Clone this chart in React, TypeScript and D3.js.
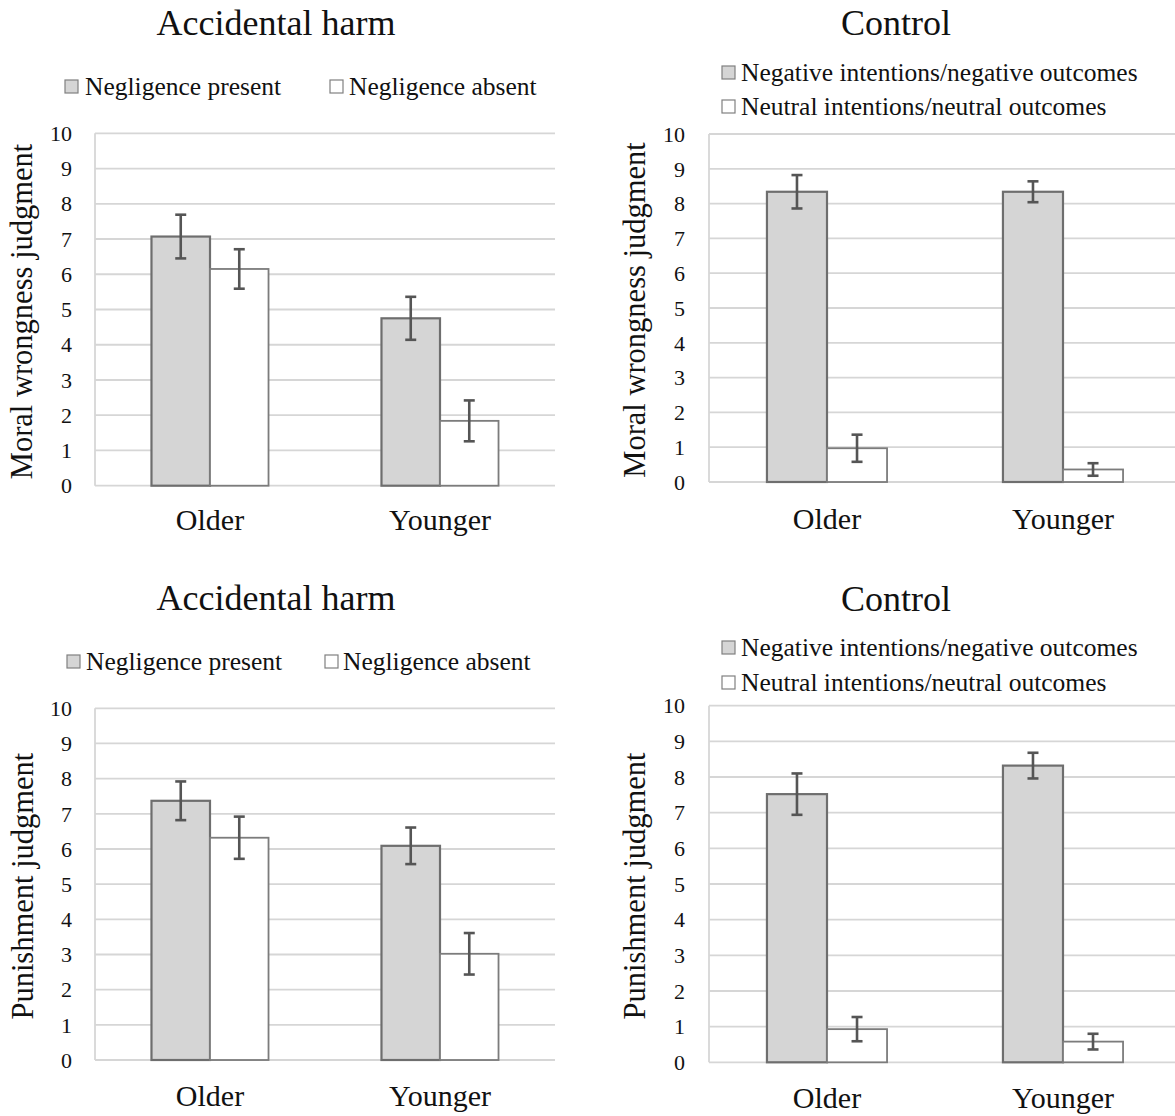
import React from "react";
import * as d3 from "d3";

// ---------- data ----------
const groups = ["Older", "Younger"];
const accidentalSeries = ["Negligence present", "Negligence absent"];
const controlSeries = [
  "Negative intentions/negative outcomes",
  "Neutral intentions/neutral outcomes",
];
const yTicks = [0, 1, 2, 3, 4, 5, 6, 7, 8, 9, 10];

// Moral wrongness – accidental harm
const moralPresent = [7.07, 4.75];
const moralPresentErr = [0.62, 0.61];
const moralAbsent = [6.15, 1.84];
const moralAbsentErr = [0.56, 0.58];

// Moral wrongness – control
const moralNegative = [8.34, 8.34];
const moralNegativeErr = [0.48, 0.3];
const moralNeutral = [0.97, 0.36];
const moralNeutralErr = [0.39, 0.18];

// Punishment – accidental harm
const punishPresent = [7.37, 6.09];
const punishPresentErr = [0.55, 0.52];
const punishAbsent = [6.32, 3.02];
const punishAbsentErr = [0.6, 0.59];

// Punishment – control
const punishNegative = [7.52, 8.32];
const punishNegativeErr = [0.58, 0.36];
const punishNeutral = [0.93, 0.58];
const punishNeutralErr = [0.34, 0.22];

// ---------- styles ----------
const FONT = '"Liberation Serif", "Times New Roman", Tinos, "DejaVu Serif", serif';
const GRAY_FILL = "#d5d5d5";
const GRID = "#d6d6d6";
const series_fill = [GRAY_FILL, "#ffffff"];
const series_stroke = ["#6e6e6e", "#7c7c7c"];
const series_sw = [2.2, 1.8];
const txt = { fontFamily: FONT };

type Panel = {
  title: string;
  titleX: number;
  titleY: number;
  yLabel: string;
  left: number;
  right: number;
  top: number;
  bottom: number;
  tickEnd: number;
  yTitleX: number;
  xLabelY: number;
  series: string[];
  values: number[][];
  errors: number[][];
  legend: { sx: number; tx: number; y: number }[];
};

const panels: Panel[] = [
  {
    title: "Accidental  harm",
    titleX: 276,
    titleY: 35,
    yLabel: "Moral wrongness judgment",
    left: 95,
    right: 555,
    top: 133.3,
    bottom: 485.7,
    tickEnd: 72,
    yTitleX: 32,
    xLabelY: 530,
    series: accidentalSeries,
    values: [moralPresent, moralAbsent],
    errors: [moralPresentErr, moralAbsentErr],
    legend: [
      { sx: 65, tx: 85, y: 95 },
      { sx: 330, tx: 349, y: 95 },
    ],
  },
  {
    title: "Control",
    titleX: 896,
    titleY: 35,
    yLabel: "Moral wrongness judgment",
    left: 709,
    right: 1181,
    top: 134,
    bottom: 482,
    tickEnd: 685,
    yTitleX: 645,
    xLabelY: 529,
    series: controlSeries,
    values: [moralNegative, moralNeutral],
    errors: [moralNegativeErr, moralNeutralErr],
    legend: [
      { sx: 722, tx: 741, y: 81 },
      { sx: 722, tx: 741, y: 115 },
    ],
  },
  {
    title: "Accidental  harm",
    titleX: 276,
    titleY: 610,
    yLabel: "Punishment judgment",
    left: 95,
    right: 555,
    top: 708.3,
    bottom: 1060,
    tickEnd: 72,
    yTitleX: 33,
    xLabelY: 1106,
    series: accidentalSeries,
    values: [punishPresent, punishAbsent],
    errors: [punishPresentErr, punishAbsentErr],
    legend: [
      { sx: 67, tx: 86, y: 670 },
      { sx: 325, tx: 343, y: 670 },
    ],
  },
  {
    title: "Control",
    titleX: 896,
    titleY: 611,
    yLabel: "Punishment judgment",
    left: 709,
    right: 1181,
    top: 705.7,
    bottom: 1062.3,
    tickEnd: 685,
    yTitleX: 645,
    xLabelY: 1108,
    series: controlSeries,
    values: [punishNegative, punishNeutral],
    errors: [punishNegativeErr, punishNeutralErr],
    legend: [
      { sx: 722, tx: 741, y: 656 },
      { sx: 722, tx: 741, y: 691 },
    ],
  },
];

const GAP_RATIO = 1.93;

function ChartPanel({ p }: { p: Panel }) {
  const y = d3.scaleLinear().domain([0, 10]).range([p.bottom, p.top]);
  const x0 = d3.scaleBand<string>().domain(groups).range([p.left, p.right]).paddingInner(0).paddingOuter(0);
  const band = x0.bandwidth();
  const barW = band / (2 + GAP_RATIO);
  const x1 = d3
    .scaleBand<number>()
    .domain([0, 1])
    .range([band / 2 - barW, band / 2 + barW])
    .padding(0);

  return (
    <g>
      <text x={p.titleX} y={p.titleY} textAnchor="middle" fontSize={36} style={txt} fill="#111">
        {p.title}
      </text>

      {p.series.map((s, i) => (
        <g key={s}>
          <rect
            x={p.legend[i].sx}
            y={p.legend[i].y - 15}
            width={13}
            height={13}
            fill={series_fill[i]}
            stroke="#808080"
            strokeWidth={1.2}
          />
          <text x={p.legend[i].tx} y={p.legend[i].y} fontSize={25.5} style={txt} fill="#111">
            {s}
          </text>
        </g>
      ))}

      {yTicks.map((t) => (
        <line key={t} x1={p.left} x2={p.right} y1={y(t)} y2={y(t)} stroke={GRID} strokeWidth={1.8} />
      ))}
      <line x1={p.left} x2={p.left} y1={y(10)} y2={y(0)} stroke={GRID} strokeWidth={1.8} />

      {yTicks.map((t) => (
        <text key={t} x={p.tickEnd} y={y(t)} dy="0.35em" textAnchor="end" fontSize={22} style={txt} fill="#111">
          {t}
        </text>
      ))}

      <text
        transform={`translate(${p.yTitleX},${(p.top + p.bottom) / 2 + 2}) rotate(-90)`}
        textAnchor="middle"
        fontSize={30.5}
        style={txt}
        fill="#111"
      >
        {p.yLabel}
      </text>

      {groups.map((g, gi) =>
        p.values.map((vals, si) => {
          const bx = (x0(g) as number) + (x1(si) as number);
          const v = vals[gi];
          return (
            <rect
              key={g + si}
              x={bx}
              y={y(v)}
              width={x1.bandwidth()}
              height={y(0) - y(v)}
              fill={series_fill[si]}
              stroke={series_stroke[si]}
              strokeWidth={series_sw[si]}
            />
          );
        })
      )}

      {groups.map((g, gi) =>
        p.values.map((vals, si) => {
          const cx = (x0(g) as number) + (x1(si) as number) + x1.bandwidth() / 2;
          const v = vals[gi];
          const e = p.errors[si][gi];
          const yt = y(v + e);
          const yb = y(v - e);
          return (
            <g key={"e" + g + si} stroke="#555555" strokeWidth={2.6}>
              <line x1={cx} x2={cx} y1={yt} y2={yb} />
              <line x1={cx - 5.5} x2={cx + 5.5} y1={yt} y2={yt} />
              <line x1={cx - 5.5} x2={cx + 5.5} y1={yb} y2={yb} />
            </g>
          );
        })
      )}

      {groups.map((g) => (
        <text
          key={g}
          x={(x0(g) as number) + band / 2}
          y={p.xLabelY}
          textAnchor="middle"
          fontSize={30}
          style={txt}
          fill="#111"
        >
          {g}
        </text>
      ))}
    </g>
  );
}

export default function App() {
  return (
    <svg
      width={1175}
      height={1116}
      viewBox="0 0 1175 1116"
      style={{ position: "absolute", left: 0, top: 0, display: "block", background: "#fff" }}
    >
      <rect x={0} y={0} width={1175} height={1116} fill="#fff" />
      {panels.map((p, i) => (
        <ChartPanel key={i} p={p} />
      ))}
    </svg>
  );
}
